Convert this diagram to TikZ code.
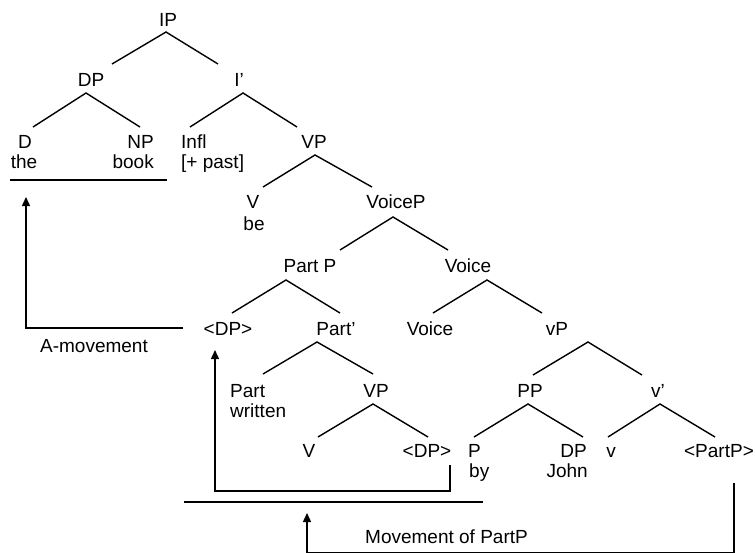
\documentclass[tikz,border=0pt]{standalone}
\usepackage{fontspec}
\setmainfont{Liberation Sans}
\usetikzlibrary{arrows.meta}
\begin{document}
\begin{tikzpicture}[x=1pt,y=-1pt,
  lbl/.style={inner sep=0pt,anchor=base,font=\fontsize{19}{20}\selectfont},
  lblw/.style={lbl,anchor=base west},
  lble/.style={lbl,anchor=base east},
  branch/.style={line width=1.4pt},
  mv/.style={line width=1.4pt},
  mvarrow/.style={line width=1.4pt,-{Triangle[length=9pt,width=8pt]}}]
\useasboundingbox (0,0) rectangle (755,552);
% labels
\node[lbl] (IP) at (168,26) {IP};
\node[lbl] (DP1) at (91,86) {DP};
\node[lbl] (Ibar) at (239,86) {I’};
\node[lbl] (D) at (25,148) {D};
\node[lbl] (the) at (24,168) {the};
\node[lble] (NP) at (154,148) {NP};
\node[lble] (book) at (154,168) {book};
\node[lblw] (Infl) at (181,148) {Infl};
\node[lblw] (past) at (181,168) {[+ past]};
\node[lbl] (VP1) at (314,148) {VP};
\node[lbl] (V1) at (253,208) {V};
\node[lbl] (be) at (254,230) {be};
\node[lbl] (VoiceP) at (396,208) {VoiceP};
\node[lbl] (PartP) at (310,272) {Part P};
\node[lbl] (Voicebar) at (468,272) {Voice};
\node[lbl] (DPt1) at (228,335) {<DP>};
\node[lbl] (Partbar) at (336,335) {Part’};
\node[lbl] (Voice) at (430,335) {Voice};
\node[lbl] (vP) at (557,335) {vP};
\node[lblw] (Part) at (230,397) {Part};
\node[lblw] (written) at (230,417) {written};
\node[lbl] (VP2) at (376,397) {VP};
\node[lbl] (PP) at (530,397) {PP};
\node[lbl] (vbar) at (658,397) {v’};
\node[lbl] (V2) at (309,457) {V};
\node[lbl] (DPt2) at (427,457) {<DP>};
\node[lblw] (P) at (468,457) {P};
\node[lblw] (by) at (469,477) {by};
\node[lble] (DP2) at (587,457) {DP};
\node[lble] (John) at (588,477) {John};
\node[lbl] (v) at (611,457) {v};
\node[lbl] (PartPt) at (719,457) {<PartP>};
\node[lbl] (Amv) at (94,352) {A-movement};
\node[lblw] (Pmv) at (365,543) {Movement of PartP};
% branch points
\coordinate (aIP) at (166,32);  \coordinate (tDP1) at (112,64);  \coordinate (tIbar) at (218,64);
\coordinate (aDP1) at (86,93);  \coordinate (tD) at (33,127);    \coordinate (tNP) at (140,127);
\coordinate (aIbar) at (243,93); \coordinate (tInfl) at (190,127); \coordinate (tVP1) at (297,127);
\coordinate (aVP1) at (315,155); \coordinate (tV1) at (263,187); \coordinate (tVoiceP) at (372,187);
\coordinate (aVoiceP) at (393,217); \coordinate (tPartP) at (340,250); \coordinate (tVoicebar) at (448,250);
\coordinate (aPartP) at (286,280); \coordinate (tDPt1) at (232,313); \coordinate (tPartbar) at (340,313);
\coordinate (aVoicebar) at (487,280); \coordinate (tVoice) at (433,313); \coordinate (tvP) at (542,313);
\coordinate (avP) at (588,342); \coordinate (tPP) at (533,375); \coordinate (tvbar) at (642,375);
\coordinate (aPartbar) at (317,342); \coordinate (tPart) at (263,374); \coordinate (tVP2) at (373,374);
\coordinate (aVP2) at (373,404); \coordinate (tV2) at (318,437); \coordinate (tDPt2) at (428,437);
\coordinate (aPP) at (528,404); \coordinate (tP) at (474,437); \coordinate (tDP2) at (583,437);
\coordinate (avbar) at (660,404); \coordinate (tv) at (608,437); \coordinate (tPartPt) at (715,437);
\foreach \a/\l/\r in {aIP/tDP1/tIbar, aDP1/tD/tNP, aIbar/tInfl/tVP1, aVP1/tV1/tVoiceP,
  aVoiceP/tPartP/tVoicebar, aPartP/tDPt1/tPartbar, aVoicebar/tVoice/tvP, avP/tPP/tvbar,
  aPartbar/tPart/tVP2, aVP2/tV2/tDPt2, aPP/tP/tDP2, avbar/tv/tPartPt}
  \draw[branch] (\l) -- (\a) -- (\r);
% underlines
\coordinate (u1a) at (10,180); \coordinate (u1b) at (167,180);
\draw[mv] (u1a) -- (u1b);
\coordinate (u2a) at (184,502); \coordinate (u2b) at (483,502);
\draw[mv] (u2a) -- (u2b);
% A-movement
\coordinate (am0) at (183,328); \coordinate (am1) at (26,328); \coordinate (am2) at (26,197);
\draw[mvarrow] (am0) -- (am1) -- (am2);
% DP movement
\coordinate (dm0) at (450,465); \coordinate (dm1) at (450,491); \coordinate (dm2) at (215,491); \coordinate (dm3) at (215,350);
\draw[mvarrow] (dm0) -- (dm1) -- (dm2) -- (dm3);
% PartP movement
\coordinate (pm0) at (734,483); \coordinate (pm1) at (734,552.6); \coordinate (pm2) at (307,552.6); \coordinate (pm3) at (307,513);
\draw[mvarrow] (pm0) -- (pm1) -- (pm2) -- (pm3);
\end{tikzpicture}
\end{document}
